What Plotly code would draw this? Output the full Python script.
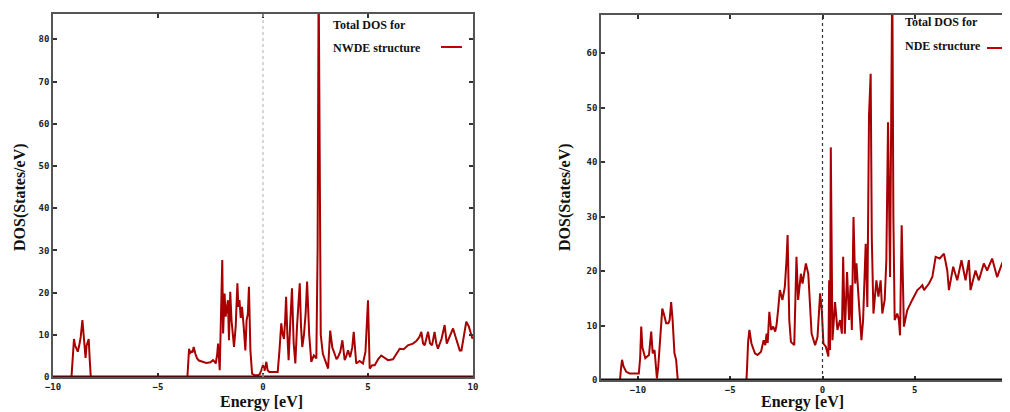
import plotly.graph_objects as go

# ---------------- data ----------------
energy_nwde = [-10.0, -9.12, -9.1, -9.05, -9.0, -8.95, -8.88, -8.82, -8.75, -8.68, -8.6, -8.55, -8.5, -8.45, -8.4, -8.35, -8.3, -8.25, -8.2,
               -3.6, -3.57, -3.52, -3.48, -3.42, -3.36, -3.3, -3.22, -3.14, -3.05, -2.9, -2.7, -2.5, -2.38, -2.3, -2.25, -2.18, -2.14, -2.06, -2.0,
               -1.94, -1.9, -1.86, -1.83, -1.78, -1.73, -1.67, -1.62, -1.56, -1.5, -1.44, -1.38, -1.3, -1.22, -1.17, -1.12, -1.06, -1.0, -0.92,
               -0.84, -0.78, -0.72, -0.67, -0.6, -0.52, -0.4, -0.25, -0.16, -0.08, 0.0, 0.08, 0.16, 0.22, 0.3, 0.5, 0.7, 0.78, 0.87, 0.93, 1.0,
               1.05, 1.1, 1.16, 1.22, 1.3, 1.38, 1.46, 1.54, 1.62, 1.75, 1.81, 1.87, 1.95, 2.03, 2.1, 2.2, 2.3, 2.42, 2.54, 2.6, 2.65, 2.7, 2.75,
               2.85, 2.94, 3.02, 3.1, 3.2, 3.3, 3.41, 3.5, 3.57, 3.68, 3.78, 3.89, 3.97, 4.05, 4.15, 4.25, 4.32, 4.44, 4.6, 4.76, 4.88, 5.0, 5.08,
               5.2, 5.32, 5.48, 5.63, 5.8, 5.95, 6.19, 6.35, 6.51, 6.7, 6.9, 7.14, 7.3, 7.45, 7.54, 7.62, 7.7, 7.86, 7.95, 8.05, 8.17, 8.25, 8.33,
               8.5, 8.65, 8.75, 8.85, 9.05, 9.2, 9.37, 9.45, 9.55, 9.68, 9.8, 9.97, 10.0]
dos_nwde = [0, 0, 1.5, 6, 9.0, 7.5, 6.5, 6.0, 7.5, 9.5, 13.5, 10, 6.5, 4.5, 7.5, 8.5, 9, 4, 0,
            0, 3.0, 6.7, 5.5, 6.2, 5.8, 7.1, 5.5, 4.4, 3.9, 3.6, 3.3, 3.5, 4.0, 3.6, 3.2, 5.5, 7.9, 1.6, 12,
            27.7, 10.3, 14, 19.8, 14.3, 16, 18.2, 8.7, 20.2, 13.5, 10, 7.1, 12, 22.2, 16.6, 18.2, 14, 16.6, 12,
            6.3, 13.5, 15, 21.4, 6.3, 0.8, 0.4, 0.4, 0.6, 1.6, 2.8, 1.5, 3.6, 1.6, 1.2, 1.2, 1.2, 6, 12.7, 10.3, 9,
            13, 19, 10, 4.0, 13, 21, 8, 3.2, 12, 22.2, 12, 7.1, 10, 15, 22.6, 10, 3.6, 5.1, 4.4, 30, 95, 50, 10,
            5.5, 4.4, 3.0, 2.0, 11, 7, 5.5, 4.2, 4.7, 6, 8.7, 4.0, 5, 6.3, 4.7, 7, 10.7, 3.2, 3.8, 3.2, 6, 18.2, 2.0,
            2.8, 2.8, 4.2, 5.1, 4.4, 4.0, 4.2, 5.5, 6.7, 6.6, 7.5, 7.9, 8.5, 9.5, 10.7, 8, 7.5, 10.7, 8, 7.5, 10.7, 8, 6.7,
            9, 12.3, 7.9, 9, 11.5, 9, 6.3, 6.3, 9, 13.1, 12, 9.1, 9.5]

energy_nde = [-12.0, -10.97, -10.92, -10.86, -10.78, -10.63, -10.45, -10.27, -9.95, -9.88, -9.82, -9.76, -9.69, -9.6, -9.5, -9.4, -9.28,
              -9.2, -9.1, -9.03, -8.97, -8.9, -8.82, -8.75, -8.68, -8.6, -8.52, -8.47, -8.35, -8.28, -8.2, -8.12, -8.02, -7.93, -7.84,
              -4.12, -4.09, -4.03, -3.96, -3.85, -3.66, -3.52, -3.33, -3.19, -3.1, -3.03, -2.97, -2.88, -2.78, -2.67, -2.56, -2.49, -2.4,
              -2.31, -2.17, -2.04, -1.95, -1.89, -1.8, -1.71, -1.53, -1.41, -1.32, -1.17, -1.08, -0.9, -0.77, -0.59, -0.4, -0.27, -0.13,
              -0.04, 0.05, 0.18, 0.32, 0.36, 0.41, 0.45, 0.54, 0.68, 0.81, 0.95, 1.05, 1.12, 1.21, 1.33, 1.44, 1.52, 1.59, 1.68, 1.77,
              1.84, 1.95, 2.11, 2.2, 2.34, 2.43, 2.52, 2.61, 2.67, 2.76, 2.92, 3.03, 3.15, 3.24, 3.37, 3.46, 3.55, 3.66, 3.78, 3.84,
              3.91, 4.05, 4.14, 4.2, 4.29, 4.41, 4.59, 4.86, 5.14, 5.3, 5.41, 5.5, 5.77, 5.95, 6.13, 6.35, 6.58, 6.76, 6.85, 7.08, 7.3,
              7.53, 7.75, 7.93, 8.02, 8.29, 8.47, 8.74, 8.92, 9.19, 9.46, 9.73, 10.0]
dos_nde = [0, 0, 2.0, 3.7, 2.5, 1.5, 1.2, 1.2, 1.2, 4, 9.8, 6, 4.9, 4.0, 4.3, 4.6, 8.9,
           4.9, 5.5, 3, 0.3, 2.4, 6, 10, 13.1, 12.2, 11, 10.4, 10.4, 11, 14.3, 11, 4.9, 3.7, 0,
           0, 2, 7, 9.2, 6.7, 4.9, 4.6, 5.2, 7.3, 6.4, 8.5, 6.8, 12.5, 9.2, 9.8, 8.9, 10.1, 13,
           16.5, 14.7, 17.1, 22, 26.6, 11, 7.0, 6.4, 22.6, 14.7, 19.5, 17.7, 21.4, 19.5, 8.5, 6.4, 7.9, 15.9,
           12.8, 6.7, 6.1, 4.3, 18.3, 5.5, 42.7, 7.3, 14.3, 9.2, 11, 8.5, 22.6, 8.5, 19.8, 11, 17.4, 9.2, 29.9, 17.7,
           21.4, 15.3, 7.3, 11, 25, 13.4, 48.5, 56.2, 26.3, 12.2, 18.3, 15.3, 18.3, 12.2, 14.7, 22, 47.3, 18.9, 75, 29.9,
           11, 12.2, 11, 8.2, 28.4, 9.8, 12.8, 14.7, 16.5, 17, 17.4, 16.5, 17.7, 18.9, 22.6, 22.3, 23.2, 20.1, 16.5, 20.8, 18.3,
           22, 18.3, 22, 16.5, 20.1, 18.3, 21.4, 20.1, 22.3, 18.9, 21.4, 23.2]

assert len(energy_nwde) == len(dos_nwde), (len(energy_nwde), len(dos_nwde))
assert len(energy_nde) == len(dos_nde), (len(energy_nde), len(dos_nde))

x_ticks = [-10, -5, 0, 5, 10]
y_ticks_nwde = [0, 10, 20, 30, 40, 50, 60, 70, 80]
y_ticks_nde = [0, 10, 20, 30, 40, 50, 60]
legend_top = "Total DOS for"
legend_nwde = "NWDE structure"
legend_nde = "NDE structure"

# ---------------- figure ----------------
W, H = 1010, 412
OFF = 8  # page body margin offset of the rendered figure
LINE = "#a80000"
AXC = "#555555"

fig = go.Figure()
fig.add_trace(go.Scatter(x=energy_nwde, y=dos_nwde, mode="lines", line=dict(color=LINE, width=2),
                         xaxis="x", yaxis="y", showlegend=False, name=legend_nwde))
fig.add_trace(go.Scatter(x=energy_nde, y=dos_nde, mode="lines", line=dict(color=LINE, width=2),
                         xaxis="x2", yaxis="y2", showlegend=False, name=legend_nde))

tickfont = dict(family="DejaVu Sans Mono", size=9, color="#222", weight="bold")
common = dict(showgrid=False, zeroline=False, showline=True, linecolor=AXC, linewidth=1.5,
              mirror="ticks", ticks="inside", ticklen=4, tickwidth=1.5, tickcolor="#333",
              tickfont=tickfont, automargin=False)

def px(xp):
    return (xp - OFF) / W

def py(yp):
    return 1 - (yp - OFF) / H

fig.update_layout(
    width=W, height=H, margin=dict(l=0, r=0, t=0, b=0, autoexpand=False),
    plot_bgcolor="white", paper_bgcolor="white",
    xaxis=dict(domain=[px(53), px(473)], range=[-10, 10], tickvals=x_ticks, anchor="y", **common),
    yaxis=dict(domain=[py(377), py(14)], range=[0, 86], tickvals=y_ticks_nwde, anchor="x", **common),
    xaxis2=dict(domain=[px(601), px(1008)], range=[-12, 10.05], tickvals=x_ticks, anchor="y2", **common),
    yaxis2=dict(domain=[py(380), py(15)], range=[0, 67], tickvals=y_ticks_nde, anchor="x2", **common),
)

# thick dark baseline at DOS = 0 (as in the reference)
fig.add_shape(type="line", xref="x domain", yref="y", x0=0, x1=1, y0=0, y1=0,
              line=dict(color="#4a0a0a", width=3))
fig.add_shape(type="line", xref="x2 domain", yref="y2", x0=0, x1=1, y0=0, y1=0,
              line=dict(color="#111111", width=3))

# Fermi level dotted lines
fig.add_shape(type="line", xref="x", yref="y domain", x0=0, x1=0, y0=0, y1=1,
              line=dict(color="#bbbbbb", width=1.2, dash="dot"))
fig.add_shape(type="line", xref="x2", yref="y2 domain", x0=0, x1=0, y0=0, y1=1,
              line=dict(color="#333333", width=1.2, dash="dot"))

# axis titles
title_font = dict(family="Liberation Serif", size=16, color="#111", weight="bold")
for xc in (261, 802):
    fig.add_annotation(text="Energy [eV]", xref="paper", yref="paper", x=px(xc), y=py(402),
                       showarrow=False, font=title_font, xanchor="center", yanchor="middle")
for xc in (20, 565):
    fig.add_annotation(text="DOS(States/eV)", xref="paper", yref="paper", x=px(xc), y=py(197),
                       showarrow=False, font=title_font, textangle=-90, xanchor="center", yanchor="middle")

# legends (gnuplot style: text then sample line to the right)
leg_font = dict(family="Liberation Serif", size=12, color="#111", weight="bold")
for (xt, y1, y2, name, sx0, sx1, sy) in [(331, 25, 48, legend_nwde, 441, 462, 47),
                                          (903, 22, 46, legend_nde, 987, 1008, 48)]:
    fig.add_annotation(text=legend_top, xref="paper", yref="paper", x=px(xt), y=py(y1),
                       showarrow=False, font=leg_font, xanchor="left", yanchor="middle")
    fig.add_annotation(text=name, xref="paper", yref="paper", x=px(xt), y=py(y2),
                       showarrow=False, font=leg_font, xanchor="left", yanchor="middle")
    fig.add_shape(type="line", xref="paper", yref="paper", x0=px(sx0), x1=px(sx1), y0=py(sy), y1=py(sy),
                  line=dict(color="#c00000", width=2))

fig.write_html("out.html")
